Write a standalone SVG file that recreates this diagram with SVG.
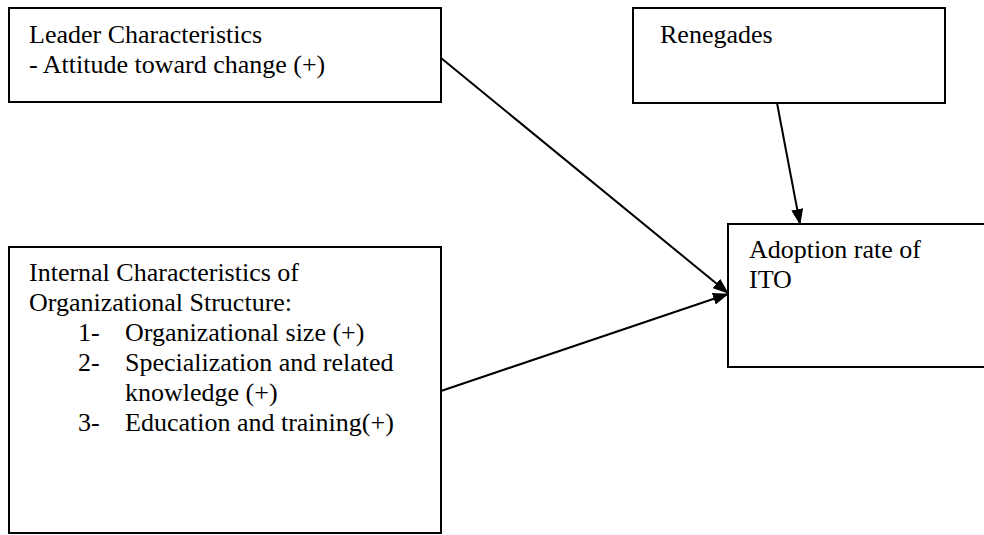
<svg xmlns="http://www.w3.org/2000/svg" width="984" height="535" viewBox="0 0 984 535">
<defs>
<style>
.box{fill:#fff;stroke:#000;stroke-width:2}
.t{font-family:"Liberation Serif","Times New Roman",serif;font-size:26px;fill:#000}
.c{stroke:#000;stroke-width:2;fill:none}
</style>
<marker id="ah" markerWidth="16" markerHeight="12" refX="15" refY="6" orient="auto" markerUnits="userSpaceOnUse">
<path d="M0,0 L16,6 L0,12 Z" fill="#000"/>
</marker>
</defs>
<rect width="984" height="535" fill="#fff"/>
<g id="leader">
<rect class="box" x="9" y="8" width="432" height="94"/>
<text class="t" x="29" y="43">Leader Characteristics</text>
<text class="t" x="29" y="73">- Attitude toward change (+)</text>
</g>
<g id="renegades">
<rect class="box" x="633" y="8" width="312" height="95"/>
<text class="t" x="660" y="43">Renegades</text>
</g>
<g id="internal">
<rect class="box" x="9" y="247" width="432" height="286"/>
<text class="t" x="29" y="281">Internal Characteristics of</text>
<text class="t" x="29" y="311">Organizational Structure:</text>
<text class="t" x="78" y="341">1-</text>
<text class="t" x="125" y="341">Organizational size (+)</text>
<text class="t" x="78" y="371">2-</text>
<text class="t" x="125" y="371">Specialization and related</text>
<text class="t" x="125" y="401">knowledge (+)</text>
<text class="t" x="78" y="431">3-</text>
<text class="t" x="125" y="431">Education and training(+)</text>
</g>
<g id="adoption">
<rect class="box" x="728" y="224" width="270" height="143"/>
<text class="t" x="749" y="258">Adoption rate of</text>
<text class="t" x="749" y="288">ITO</text>
</g>
<g id="connectors">
<line class="c" x1="441" y1="58" x2="728" y2="293" marker-end="url(#ah)"/>
<line class="c" x1="441" y1="391" x2="728" y2="294" marker-end="url(#ah)"/>
<line class="c" x1="777" y1="103" x2="800" y2="224" marker-end="url(#ah)"/>
</g>
</svg>
